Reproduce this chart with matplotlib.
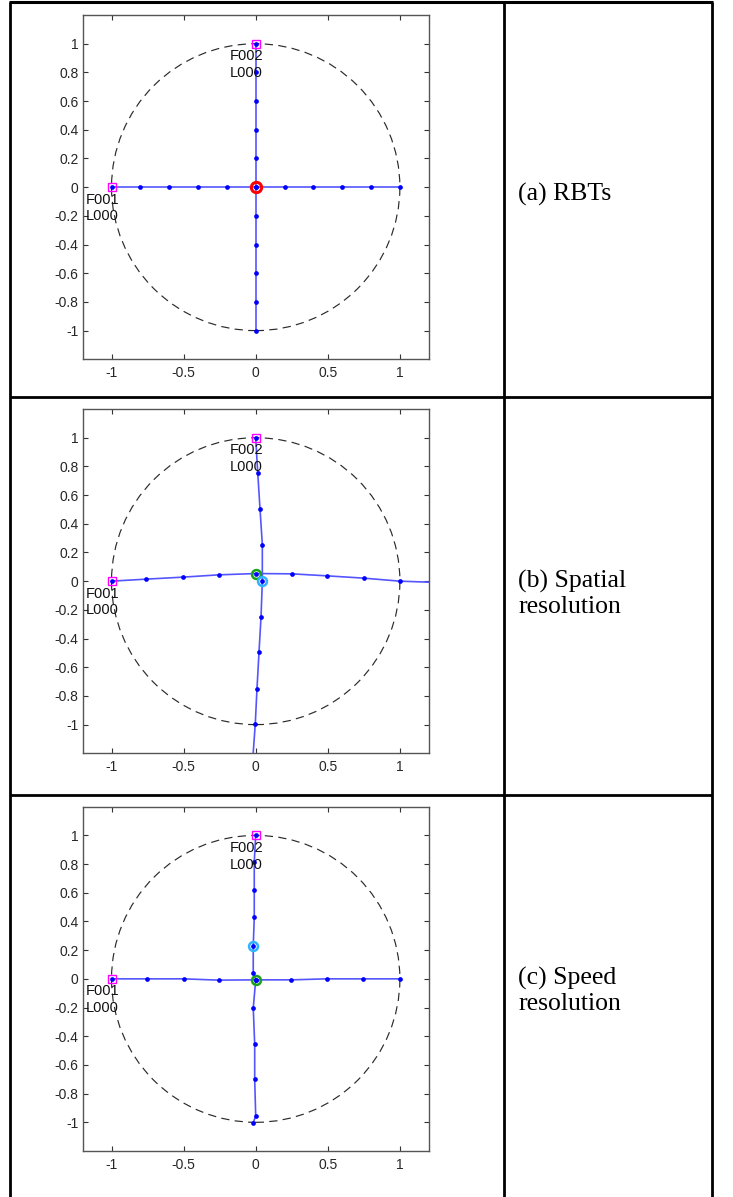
import matplotlib
matplotlib.use("Agg")
import matplotlib.pyplot as plt
from matplotlib.lines import Line2D
from matplotlib.patches import Circle

# ---------------- data ----------------
panel_labels = ["(a) RBTs", "(b) Spatial\nresolution", "(c) Speed\nresolution"]

x_ticks = [-1, -0.5, 0, 0.5, 1]
x_tick_labels = ["-1", "-0.5", "0", "0.5", "1"]
y_ticks = [-1, -0.8, -0.6, -0.4, -0.2, 0, 0.2, 0.4, 0.6, 0.8, 1]
y_tick_labels = ["-1", "-0.8", "-0.6", "-0.4", "-0.2", "0", "0.2", "0.4", "0.6", "0.8", "1"]

# panel (a): RBTs
a_h_x = [-1.0, -0.8, -0.6, -0.4, -0.2, 0.0, 0.2, 0.4, 0.6, 0.8, 1.0]
a_h_y = [0, 0, 0, 0, 0, 0, 0, 0, 0, 0, 0]
a_v_x = [0, 0, 0, 0, 0, 0, 0, 0, 0, 0, 0]
a_v_y = [1.0, 0.8, 0.6, 0.4, 0.2, 0.0, -0.2, -0.4, -0.6, -0.8, -1.0]

# panel (b): spatial resolution
b_h_x = [-1.0, -0.759, -0.504, -0.255, 0.0, 0.25, 0.494, 0.749, 0.999, 1.25]
b_h_y = [0.0, 0.014, 0.028, 0.044, 0.053, 0.051, 0.037, 0.021, 0.0, -0.009]
b_v_x = [0.0, 0.014, 0.030, 0.046, 0.046, 0.037, 0.023, 0.009, -0.003, -0.021]
b_v_y = [1.0, 0.757, 0.502, 0.255, 0.0, -0.248, -0.494, -0.749, -0.995, -1.25]

# panel (c): speed resolution
c_h_x = [-1.0, -0.757, -0.5, -0.255, 0.0, 0.247, 0.493, 0.747, 1.0]
c_h_y = [0.0, 0.0, 0.0, -0.009, -0.007, -0.007, 0.0, 0.0, 0.0]
c_v_x = [0.0, -0.01, -0.01, -0.01, -0.017, -0.017, 0.0, -0.017, -0.007, -0.007, 0.0, -0.017]
c_v_y = [1.0, 0.815, 0.618, 0.428, 0.231, 0.044, -0.007, -0.204, -0.456, -0.701, -0.956, -1.002]

# anchor (feature) points and their labels
anchor_x = [-1.0, 0.0]
anchor_y = [0.0, 1.0]
anchor_f = ["F001", "F002"]
anchor_l = ["L000", "L000"]

# highlighted points per panel: (x, y, colour)
a_marks = [(0.0, 0.0, "#ff0000")]
b_marks = [(0.0, 0.053, "#1aa31a"), (0.046, 0.0, "#2fb4ff")]
c_marks = [(0.0, -0.007, "#1aa31a"), (-0.017, 0.231, "#2fb4ff")]

panels = [
    (a_h_x, a_h_y, a_v_x, a_v_y, a_marks),
    (b_h_x, b_h_y, b_v_x, b_v_y, b_marks),
    (c_h_x, c_h_y, c_v_x, c_v_y, c_marks),
]

# ---------------- layout ----------------
W, H = 733, 1197
fig = plt.figure(figsize=(W / 100, H / 100), dpi=100)


def fx(x):
    return x / W


def fy(y):
    return 1 - y / H


axes_tops = [15.0, 409.0, 806.7]
ax_left, ax_right, ax_h = 82.7, 428.7, 344.3
row_lines = [397.3, 795.0]
row_centers = [194.0, 594.0, 991.0]
tbl_left, tbl_div, tbl_right, tbl_top = 10.0, 503.5, 712.0, 1.7

tick_font = dict(family=["Liberation Sans", "DejaVu Sans"], size=10)
ann_font = ["Liberation Sans Narrow", "Liberation Sans", "DejaVu Sans"]

for i, (hx, hy, vx, vy, marks) in enumerate(panels):
    top = axes_tops[i]
    ax = fig.add_axes([fx(ax_left), fy(top + ax_h), fx(ax_right) - fx(ax_left), ax_h / H])
    ax.set_xlim(-1.2, 1.2)
    ax.set_ylim(-1.2, 1.2)

    circ = Circle((0, 0), 1.0, fill=False, edgecolor="#2a2a2a", lw=0.85,
                  linestyle=(0, (7, 4.5)), zorder=2)
    ax.add_patch(circ)

    line_kw = dict(color="#5555ff", lw=1.2, zorder=3)
    ax.plot(hx, hy, **line_kw)
    ax.plot(vx, vy, **line_kw)

    for (mx, my, col) in marks:
        ax.plot([mx], [my], marker="o", ms=7.4 if col == "#ff0000" else 6.4,
                mfc="none", mec=col, mew=2.2 if col == "#ff0000" else 1.8,
                ls="none", zorder=4)

    ax.plot(anchor_x, anchor_y, marker="s", ms=5.2, mfc="none", mec="#ff00ff",
            mew=1.0, ls="none", zorder=4)

    dot_kw = dict(marker="o", ms=3.4, color="#0000ff", mew=0, ls="none", zorder=5)
    ax.plot(hx, hy, **dot_kw)
    ax.plot(vx, vy, **dot_kw)

    for axx, ayy, f, l in zip(anchor_x, anchor_y, anchor_f, anchor_l):
        ax.text(axx - 0.18, ayy - 0.088, f, family=ann_font, size=10.5,
                color="#111111", ha="left", va="center", zorder=6)
        ax.text(axx - 0.18, ayy - 0.203, l, family=ann_font, size=10.5,
                color="#111111", ha="left", va="center", zorder=6)

    ax.set_xticks(x_ticks)
    ax.set_xticklabels(x_tick_labels, fontdict=tick_font, color="#262626")
    ax.set_yticks(y_ticks)
    ax.set_yticklabels(y_tick_labels, fontdict=tick_font, color="#262626")
    ax.tick_params(direction="in", length=3.5, width=0.8, color="#333333",
                   top=True, right=True)
    ax.tick_params(axis="x", pad=5)
    ax.tick_params(axis="y", pad=3)
    for s in ax.spines.values():
        s.set_color("#555555")
        s.set_linewidth(1.0)

    fig.text(fx(518.3), fy(row_centers[i]), panel_labels[i],
             family=["Liberation Serif", "DejaVu Serif"], size=18.5,
             ha="left", va="center", linespacing=1.15, color="black")

# ---------------- table lines ----------------
tbl_kw = dict(color="black", transform=fig.transFigure, solid_capstyle="butt")
fig.add_artist(Line2D([fx(tbl_left - 1), fx(tbl_right + 1)], [fy(tbl_top), fy(tbl_top)], lw=2.2, **tbl_kw))
for yy in row_lines:
    fig.add_artist(Line2D([fx(tbl_left), fx(tbl_right)], [fy(yy), fy(yy)], lw=2.0, **tbl_kw))
for xx in [tbl_left, tbl_div, tbl_right]:
    fig.add_artist(Line2D([fx(xx), fx(xx)], [fy(tbl_top), 0], lw=2.0, **tbl_kw))

fig.savefig("out.png", dpi=100, facecolor="white")
